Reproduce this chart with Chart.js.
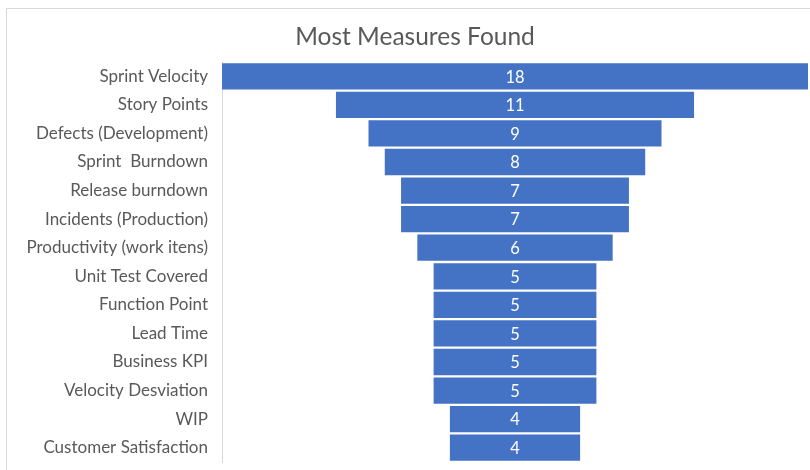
<!DOCTYPE html>
<html>
<head>
<meta charset="utf-8">
<script src="https://cdn.jsdelivr.net/npm/chart.js@4"></script>
<style>
  html, body { margin: 0; padding: 0; background: #fff; }
  #wrap { width: 810px; height: 470px; }
</style>
</head>
<body>
<div id="wrap"><canvas id="graphique" width="810" height="470"></canvas></div>
<script>
var categories = ['Sprint Velocity', 'Story Points', 'Defects (Development)', 'Sprint  Burndown',
    'Release burndown', 'Incidents (Production)', 'Productivity (work itens)', 'Unit Test Covered',
    'Function Point', 'Lead Time', 'Business KPI', 'Velocity Desviation', 'WIP', 'Customer Satisfaction'];
var measures = [18, 11, 9, 8, 7, 7, 6, 5, 5, 5, 5, 5, 4, 4];
var titre = 'Most Measures Found';

document.addEventListener('DOMContentLoaded', function() {
    var maxi = Math.max.apply(null, measures);
    // funnel: each bar floats around the middle of the axis
    var funnel = measures.map(function(v) { return [(maxi - v) / 2, (maxi + v) / 2]; });

    var cadre = {
        id: 'cadre',
        beforeDraw: function(chart) {
            var c = chart.ctx;
            c.save();
            c.strokeStyle = '#d9d9d9';
            c.lineWidth = 1;
            c.strokeRect(6.5, 8.5, 900, 600);
            c.restore();
        },
        afterDraw: function(chart) {
            var c = chart.ctx;
            c.save();
            c.fillStyle = '#595959';
            c.font = '24.5px Lato';
            c.textAlign = 'center';
            c.textBaseline = 'middle';
            c.fillText(titre, 415, 37);
            c.restore();
        }
    };

    var etiquettes = {
        id: 'etiquettes',
        afterDatasetsDraw: function(chart) {
            var c = chart.ctx;
            var meta = chart.getDatasetMeta(0);
            c.save();
            c.fillStyle = '#ffffff';
            c.font = '16.5px Lato';
            c.textAlign = 'center';
            c.textBaseline = 'middle';
            meta.data.forEach(function(bar, i) {
                c.fillText(String(measures[i]), (bar.x + bar.base) / 2, bar.y + 1);
            });
            c.restore();
        }
    };

    var ctx = document.getElementById('graphique').getContext('2d');
    new Chart(ctx, {
        type: 'bar',
        data: {
            labels: categories,
            datasets: [{
                data: funnel,
                backgroundColor: '#4472c4',
                borderWidth: 0,
                barPercentage: 0.92,
                categoryPercentage: 1
            }]
        },
        options: {
            indexAxis: 'y',
            responsive: false,
            animation: false,
            layout: { padding: { top: 62, right: 2, bottom: 8, left: 0 } },
            plugins: {
                legend: { display: false },
                tooltip: { enabled: false },
                title: { display: false }
            },
            scales: {
                x: { display: false, min: 0, max: maxi },
                y: {
                    grid: { display: false },
                    border: { display: true, color: '#d9d9d9', width: 1 },
                    ticks: { color: '#595959', font: { family: 'Lato', size: 17 }, padding: 6 },
                    afterFit: function(scale) {
                        scale.width = 222;
                        scale.paddingTop = 0;
                        scale.paddingBottom = 0;
                    }
                }
            }
        },
        plugins: [cadre, etiquettes]
    });
});
</script>
</body>
</html>
